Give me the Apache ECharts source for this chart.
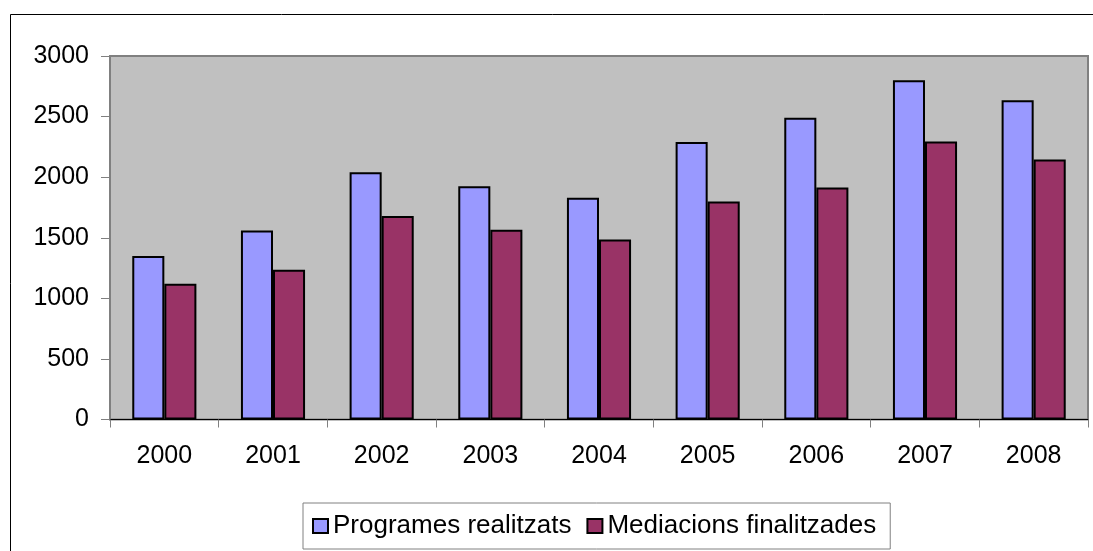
<!DOCTYPE html>
<html>
<head>
<meta charset="utf-8">
<script src="https://cdn.jsdelivr.net/npm/echarts@6/dist/echarts.min.js"></script>
<style>
html,body{margin:0;padding:0;background:#fff;}
#chart{width:1093px;height:551px;}
</style>
</head>
<body>
<div id="chart"></div>
<script>
const categories = ['2000','2001','2002','2003','2004','2005','2006','2007','2008'];
const programes = [1350, 1560, 2040, 1925, 1830, 2290, 2490, 2800, 2635];
const mediacions = [1120, 1235, 1680, 1565, 1485, 1800, 1915, 2295, 2145];
const seriesNames = ['Programes realitzats', 'Mediacions finalitzades'];

const chart = echarts.init(document.getElementById('chart'), null, {renderer: 'canvas'});
const font = 'Liberation Sans, Arial, sans-serif';
chart.setOption({
  animation: false,
  backgroundColor: '#ffffff',
  graphic: [{
    type: 'rect',
    shape: {x: 10.5, y: 14.5, width: 1200, height: 600},
    style: {fill: 'none', stroke: '#000', lineWidth: 1},
    silent: true, z: -10
  }],
  grid: {
    left: 110, top: 56, right: 5, bottom: 131.5,
    show: true, backgroundColor: '#C0C0C0', borderColor: '#808080', borderWidth: 2
  },
  legend: {
    data: seriesNames,
    left: 303, top: 503,
    width: 760,
    padding: [10, 14, 10, 9],
    borderColor: '#808080', borderWidth: 1,
    itemWidth: 15, itemHeight: 14, itemGap: 15,
    icon: 'rect',
    textStyle: {fontFamily: font, fontSize: 26, color: '#000'}
  },
  xAxis: {
    type: 'category',
    data: categories,
    axisLine: {lineStyle: {color: '#000', width: 1}},
    axisTick: {show: true, length: 8, lineStyle: {color: '#808080', width: 1}},
    axisLabel: {fontFamily: font, fontSize: 25, color: '#000', margin: 24}
  },
  yAxis: {
    type: 'value', min: 0, max: 3000, interval: 500,
    axisLine: {show: true, lineStyle: {color: '#808080', width: 2}},
    axisTick: {show: true, length: 9, lineStyle: {color: '#808080', width: 1}},
    splitLine: {show: false},
    axisLabel: {fontFamily: font, fontSize: 25, color: '#000', margin: 21,
      formatter: function (v) { return String(v); }}
  },
  series: [{
    name: seriesNames[0], type: 'bar', data: programes,
    barGap: '0%', barCategoryGap: '41%',
    itemStyle: {color: '#9999FF', borderColor: '#000', borderWidth: 2}
  }, {
    name: seriesNames[1], type: 'bar', data: mediacions,
    itemStyle: {color: '#993366', borderColor: '#000', borderWidth: 2}
  }]
});
</script>
</body>
</html>
